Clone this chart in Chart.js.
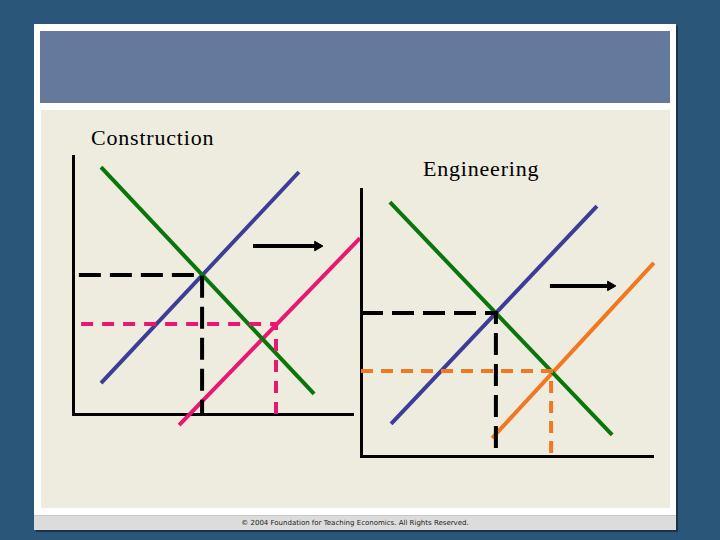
<!DOCTYPE html>
<html>
<head>
<meta charset="utf-8">
<script src="https://cdn.jsdelivr.net/npm/chart.js@4/dist/chart.umd.min.js"></script>
<style>
  html, body { margin: 0; padding: 0; }
  body { width: 720px; height: 540px; background: #2a5679; position: relative; overflow: hidden; }
  #frame { position: absolute; left: 34px; top: 24px; width: 642px; height: 506px; background: #ffffff; box-shadow: 2px 2px 0 #1b3247; }
  #header { position: absolute; left: 40px; top: 31px; width: 630px; height: 72px; background: #65799c; }
  #cream { position: absolute; left: 41px; top: 110px; width: 629px; height: 398px; background: #edecdf; }
  #footer { position: absolute; left: 34px; top: 515px; width: 642px; height: 15px; background: #dcdcdc; border-top: 1px solid #c8c8c8; box-sizing: border-box;
            font: 7px "DejaVu Sans", sans-serif; color: #222; text-align: center; line-height: 14px; }
  .label { position: absolute; font: 22px "Liberation Serif", "DejaVu Serif", serif; letter-spacing: 0.8px; color: #000; }
  canvas { position: absolute; left: 0; top: 0; }
</style>
</head>
<body>
<div id="frame"></div>
<div id="header"></div>
<div id="cream"></div>
<div id="footer">&copy; 2004 Foundation for Teaching Economics. All Rights Reserved.</div>
<div class="label" style="left:91px; top:125px;">Construction</div>
<div class="label" style="left:423px; top:156px;">Engineering</div>
<canvas id="construction" width="720" height="540"></canvas>
<canvas id="engineering" width="720" height="540"></canvas>
<script>
// quantity (x) / price (y), both on a 0-10 scale for each diagram
const conDemand   = [{x: 1.0, y: 9.57}, {x: 8.61, y: 0.78}];
const conSupply1  = [{x: 1.0, y: 1.2},  {x: 8.07, y: 9.38}];
const conSupply2  = [{x: 3.79, y: -0.43}, {x: 10.25, y: 6.82}];
const conEq1      = [{x: 0.21, y: 5.39}, {x: 4.61, y: 5.39}, {x: 4.61, y: 0}];
const conEq2      = [{x: 0.29, y: 3.49}, {x: 7.25, y: 3.49}, {x: 7.25, y: 0}];
const conShift    = [{x: 6.43, y: 6.51}, {x: 8.73, y: 6.51}];

const engDemand   = [{x: 0.99, y: 9.51}, {x: 8.60, y: 0.79}];
const engSupply1  = [{x: 1.03, y: 1.2},  {x: 8.08, y: 9.36}];
const engSupply2  = [{x: 4.49, y: 0.67}, {x: 10.03, y: 7.23}];
const engEq1      = [{x: 0, y: 5.36}, {x: 4.62, y: 5.36}, {x: 4.62, y: 0}];
const engEq2      = [{x: 0, y: 3.18}, {x: 6.51, y: 3.18}, {x: 6.51, y: 0}];
const engShift    = [{x: 6.47, y: 6.37}, {x: 8.54, y: 6.37}];

const GREEN = '#0a760a', BLUE = '#3d3d97', PINK = '#e8176f', ORANGE = '#f07822';

function solid(data, color) {
    return { data: data, borderColor: color, borderWidth: 4, pointRadius: 0, showLine: true, clip: false };
}
function dashed(data, color, dash) {
    return { data: data, borderColor: color, borderWidth: 4, borderDash: dash, pointRadius: 0, showLine: true, clip: false };
}
function arrow(data) {
    return {
        data: data, borderColor: '#000', backgroundColor: '#000', borderWidth: 4, showLine: true, clip: false,
        pointRadius: [0, 5.5], pointStyle: 'triangle', pointRotation: 90, pointBorderWidth: 1
    };
}

function makeChart(id, area, datasets) {
    const axis = {
        type: 'linear', min: 0, max: 10,
        grid: { display: false, drawTicks: false },
        ticks: { display: false },
        border: { display: true, color: '#000', width: 3 }
    };
    new Chart(document.getElementById(id), {
        type: 'scatter',
        data: { datasets: datasets },
        options: {
            responsive: false,
            animation: false,
            layout: { padding: { left: area.left, top: area.top, right: 720 - area.right, bottom: 540 - area.bottom } },
            plugins: { legend: { display: false }, tooltip: { enabled: false } },
            scales: { x: Object.assign({}, axis), y: Object.assign({}, axis) }
        }
    });
}

makeChart('construction', { left: 73, top: 156, right: 353, bottom: 414 }, [
    dashed(conEq1, '#000', [22, 9]),
    dashed(conEq2, PINK, [12, 9]),
    solid(conDemand, GREEN),
    solid(conSupply1, BLUE),
    solid(conSupply2, PINK),
    arrow(conShift)
]);

makeChart('engineering', { left: 361, top: 189, right: 653, bottom: 456 }, [
    dashed(engEq1, '#000', [22, 9]),
    dashed(engEq2, ORANGE, [12, 8]),
    solid(engDemand, GREEN),
    solid(engSupply1, BLUE),
    solid(engSupply2, ORANGE),
    arrow(engShift)
]);
</script>
</body>
</html>
